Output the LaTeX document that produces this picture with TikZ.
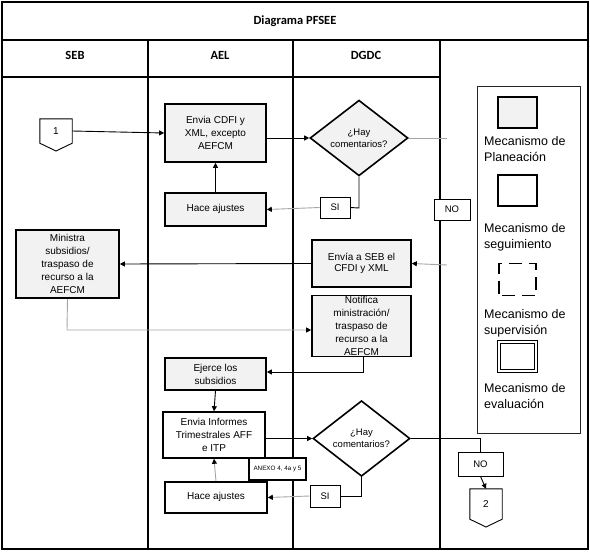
\documentclass[tikz,border=0pt]{standalone}
\usepackage{fontspec}
\setmainfont{Liberation Sans}
\newfontfamily\calib{Carlito}
\usetikzlibrary{shapes.geometric,arrows.meta}
\definecolor{plan}{RGB}{242,242,242}
\definecolor{glin}{RGB}{165,165,165}
\tikzset{
  lane/.style={line width=1.3pt,black},
  planbox/.style={draw,line width=1.6pt,fill=plan,align=center,font=\fontsize{10}{13}\selectfont,inner sep=1pt},
  segbox/.style={draw,line width=1.6pt,fill=white,align=center,font=\fontsize{10}{13}\selectfont,inner sep=1pt},
  decis/.style={draw,line width=1.6pt,shape=diamond,inner sep=0pt,align=center,font=\fontsize{9.5}{12}\selectfont},
  lbl/.style={draw,line width=0.8pt,fill=white,font=\fontsize{9.5}{11}\selectfont,inner sep=0pt},
  conn/.style={line width=0.9pt,black,-{Triangle[length=5pt,width=5pt]}},
  gconn/.style={line width=0.9pt,glin,-{Triangle[length=5pt,width=5pt,color=black]}},
  gline/.style={line width=0.9pt,glin},
  bline/.style={line width=0.9pt,black},
  legtxt/.style={anchor=west,align=left,font=\fontsize{12.5}{16}\selectfont,inner sep=0pt},
  hdr/.style={font=\calib\bfseries\fontsize{12.5}{14}\selectfont}
}
\begin{document}
\begin{tikzpicture}[x=1pt,y=-1pt]
\useasboundingbox (0,0) rectangle (590,552);
% frame and lanes
\draw[lane] (2,2) rectangle (588,549);
\draw[lane] (2,40) -- (588,40);
\draw[lane] (2,77) -- (440,77);
\draw[lane] (148,40) -- (148,549);
\draw[lane] (293,40) -- (293,549);
\draw[lane] (440,40) -- (440,549);
\node[hdr] (title) at (295,21) {Diagrama PFSEE};
\node[hdr] (hseb) at (75,55) {SEB};
\node[hdr] (hael) at (220,55) {AEL};
\node[hdr] (hdgdc) at (366,55) {DGDC};

% legend
\draw[line width=0.8pt,black!85] (477,86) rectangle (580,433);
\node[draw,line width=1.3pt,fill=plan,minimum width=39pt,minimum height=31pt,inner sep=0pt] (lg1) at (517.5,112.5) {};
\node[legtxt] (lt1) at (484,149) {Mecanismo de\\Planeación};
\node[draw,line width=1.3pt,fill=white,minimum width=39pt,minimum height=31pt,inner sep=0pt] (lg2) at (517.5,190.5) {};
\node[legtxt] (lt2) at (484,237) {Mecanismo de\\seguimiento};
\node[draw,line width=1.3pt,dash pattern=on 13pt off 7pt,dash phase=-3pt,minimum width=37pt,minimum height=32pt,inner sep=0pt] (lg3) at (517.5,279.5) {};
\node[legtxt] (lt3) at (484,323) {Mecanismo de\\supervisión};
\node[draw,line width=0.7pt,double,double distance=1.8pt,minimum width=37pt,minimum height=29pt,inner sep=0pt] (lg4) at (517.5,356.5) {};
\node[legtxt] (lt4) at (484,396) {Mecanismo de\\evaluación};

% off-page connectors
\node[minimum width=32pt,minimum height=24pt,inner sep=0pt,font=\fontsize{10}{12}\selectfont] (c1) at (56,131) {1};
\draw[line width=0.9pt] (c1.north west) -- (c1.north east) -- (c1.south east) -- (56,151) -- (c1.south west) -- cycle;
\node[minimum width=32pt,minimum height=30pt,inner sep=0pt,font=\fontsize{10}{12}\selectfont] (c2) at (486,504) {2};
\draw[line width=0.9pt] (c2.north west) -- (c2.north east) -- (c2.south east) -- (486,527) -- (c2.south west) -- cycle;

% process boxes
\node[planbox,minimum width=101pt,minimum height=58pt] (envia) at (215.5,133) {Envia CDFI y\\XML, excepto\\AEFCM};
\node[planbox,minimum width=101pt,minimum height=33pt] (aj1) at (215.5,209.5) {\raisebox{4pt}{Hace ajustes}};
\node[decis,fill=plan,minimum width=98pt,minimum height=60pt] (d1) at (359,138) {¿Hay\\comentarios?};
\node[lbl,minimum width=30pt,minimum height=21pt] (si1) at (335,207.5) {SI};
\node[lbl,minimum width=36pt,minimum height=21pt] (no1) at (452,209.5) {NO};
\node[planbox,minimum width=99pt,minimum height=47pt] (aseb) at (361.5,263.5) {\raisebox{4pt}{\begin{tabular}{@{}c@{}}Envía a SEB el\\[-1.5pt]CFDI y XML\end{tabular}}};
\node[planbox,minimum width=103pt,minimum height=68pt] (minis) at (67.5,264) {Ministra\\subsidios/\\traspaso de\\recurso a la\\AEFCM};
\node[planbox,minimum width=99pt,minimum height=60pt] (notif) at (361.5,326) {Notifica\\ministración/\\traspaso de\\recurso a la\\AEFCM};
\node[planbox,minimum width=101pt,minimum height=32pt] (ejer) at (215.5,374) {Ejerce los\\subsidios};
\node[segbox,minimum width=102pt,minimum height=46pt] (infor) at (214,435) {Envia Informes\\Trimestrales AFF\\e ITP};
\node[draw,line width=1.6pt,fill=white,minimum width=57pt,minimum height=22pt,inner sep=0pt,font=\fontsize{6.3}{7}\selectfont] (anexo) at (277.5,469) {ANEXO 4, 4a y 5};
\node[decis,fill=white,minimum width=97pt,minimum height=61pt] (d2) at (361.5,438.5) {¿Hay\\comentarios?};
\node[lbl,minimum width=30pt,minimum height=22pt] (si2) at (325,496) {SI};
\node[lbl,minimum width=45pt,minimum height=24pt] (no2) at (480.5,464) {NO};
\node[segbox,minimum width=102pt,minimum height=31pt] (aj2) at (216,497.5) {\raisebox{4pt}{Hace ajustes}};

% helper coordinates
\coordinate (d1e) at (447,138);
\coordinate (noa) at (447,265);
\coordinate (d1s) at (359,208);
\coordinate (mb) at (67,330);
\coordinate (nb) at (363,372);
\coordinate (d2e) at (480.5,438.5);
\coordinate (d2s) at (361.5,496);

% connectors
\draw[conn] (c1.east) -- (envia.west);
\draw[conn] (envia.east |- d1.west) -- (d1.west);
\draw[gline] (d1.east) -- (d1e);
\draw[bline] (d1.south) -- (d1s) -- (si1.east);
\draw[gconn] (si1.west) -- (aj1.east);
\draw[conn] (aj1.north) -- (envia.south);
\draw[gconn] (noa) -- (aseb.east);
\draw[conn] (aseb.west) -- (minis.east);
\draw[gconn] (minis.south) -- (mb) -- (notif.west |- mb);
\draw[conn] (notif.south -| nb) -- (nb) -- (ejer.east |- nb);
\draw[conn] (ejer.south) -- (infor.north);
\draw[conn] (infor.east |- d2.west) -- (d2.west);
\draw[bline] (d2.east) -- (d2e) -- (no2.north);
\draw[conn] (no2.south) -- (c2.north);
\draw[bline] (d2.south) -- (d2s) -- (si2.east);
\draw[gconn] (si2.west) -- (aj2.east);
\draw[gconn] (aj2.north) -- (infor.south);
\end{tikzpicture}
\end{document}
